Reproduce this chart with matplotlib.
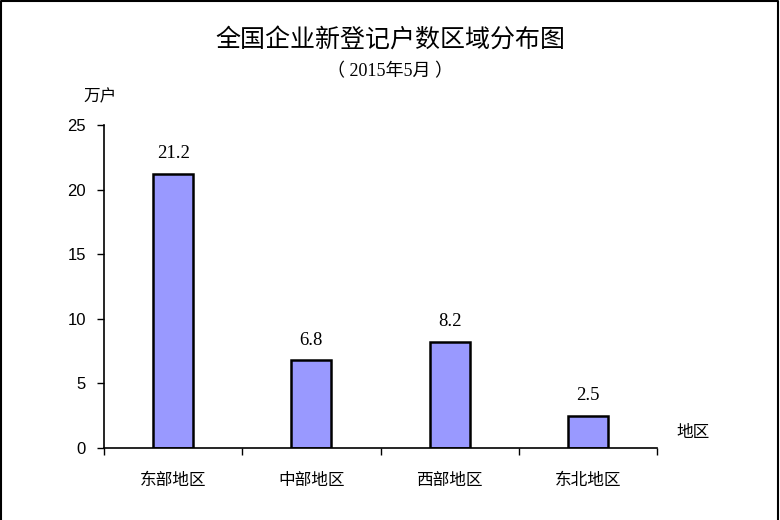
import matplotlib
matplotlib.use("Agg")
import matplotlib.pyplot as plt
from matplotlib.lines import Line2D

plt.rcParams['font.family'] = ['Noto Sans CJK SC', 'DejaVu Sans']

regions = ['东部地区', '中部地区', '西部地区', '东北地区']
values = [21.2, 6.8, 8.2, 2.5]
yticks = [0, 5, 10, 15, 20, 25]

fig = plt.figure(figsize=(7.8, 5.2), dpi=100)
ax = fig.add_axes([104/780, 1 - 448/520, (657 - 104)/780, (448 - 125)/520])

x = range(len(regions))
ax.bar(x, values, width=0.29, color='#9999FF', edgecolor='black', linewidth=1.8)
for i, v in enumerate(values):
    ax.text(i, v + 0.9, str(v), ha='center', va='bottom', fontsize=13.5,
            family='Liberation Serif')

ax.set_xlim(-0.5, len(regions) - 0.5)
ax.set_ylim(0, 25)
ax.set_yticks(yticks)
ax.set_yticklabels([str(t) for t in yticks], fontsize=12, family='Liberation Sans')
ax.set_xticks([i - 0.5 for i in range(len(regions) + 1)], minor=False)
ax.set_xticklabels([])
ax.set_xticks(list(x), minor=True)
ax.set_xticklabels(regions, minor=True, fontsize=12)
ax.tick_params(axis='x', which='minor', length=0, pad=17)
ax.tick_params(axis='x', which='major', length=5, width=1, direction='out')
ax.tick_params(axis='y', length=5, width=1, direction='out', pad=8)

for s in ['top', 'right']:
    ax.spines[s].set_visible(False)
for s in ['left', 'bottom']:
    ax.spines[s].set_linewidth(1.2)

fig.text(0.5, 1 - 40/520, '全国企业新登记户数区域分布图', ha='center', va='center', fontsize=18)
fig.text(0.5, 1 - 72/520, '（ 2015年5月 ）', ha='center', va='center', fontsize=13,
         family=['Liberation Serif', 'Noto Sans CJK SC'])
fig.text(100/780, 1 - 97/520, '万户', ha='center', va='center', fontsize=12)
fig.text(693/780, 1 - 432/520, '地区', ha='center', va='center', fontsize=12)

# frame around the picture (top, left, right)
fig.add_artist(Line2D([1/780, 1/780, 778/780, 778/780], [0, 1 - 1/520, 1 - 1/520, 0],
                      color='black', linewidth=1.5, transform=fig.transFigure))

fig.savefig('out.png', dpi=100)
